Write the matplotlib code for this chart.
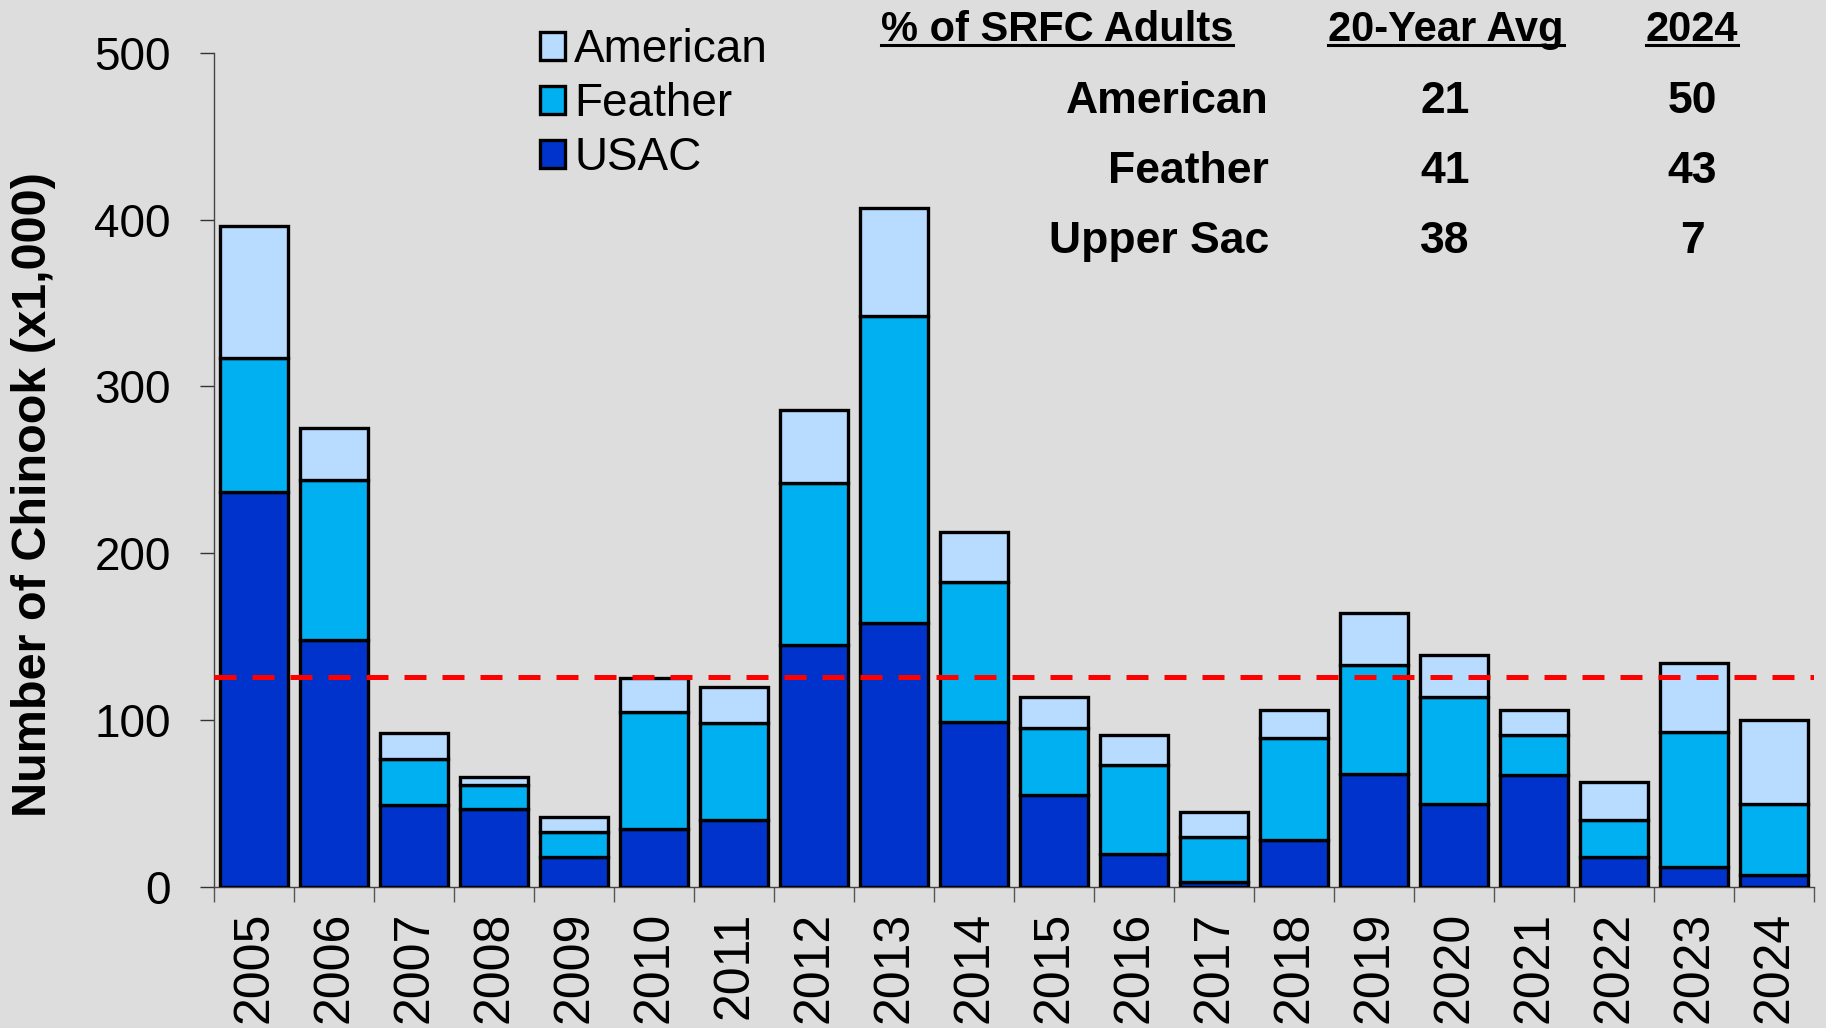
import matplotlib
matplotlib.use("Agg")
import matplotlib.pyplot as plt
from matplotlib.lines import Line2D
import numpy as np

plt.rcParams['font.family'] = ['Liberation Sans', 'DejaVu Sans']

years = [str(y) for y in range(2005, 2025)]
usac = [237, 148, 49, 47, 18, 35, 40, 145, 158, 99, 55, 20, 3, 28, 68, 50, 67, 18, 12, 7]
feather = [80, 96, 28, 14, 15, 70, 58, 97, 184, 84, 40, 53, 27, 61, 65, 64, 24, 22, 81, 43]
american = [79, 31, 15, 5, 9, 20, 22, 44, 65, 30, 19, 18, 15, 17, 31, 25, 15, 23, 41, 50]
reference_level = 126

table_header = ["% of SRFC Adults", "20-Year Avg", "2024"]
table_rows = ["American", "Feather", "Upper Sac"]
avg_20yr = [21, 41, 38]
pct_2024 = [50, 43, 7]

W, H = 1826, 1028
bg = '#dddddd'
fig = plt.figure(figsize=(W / 100, H / 100), dpi=100, facecolor=bg)
ax = fig.add_axes([214 / W, 1 - 887 / H, (1814 - 214) / W, (887 - 52.7) / H])
ax.set_facecolor(bg)

x = np.arange(len(years))
usac_a = np.array(usac)
feather_a = np.array(feather)
american_a = np.array(american)

kw = dict(width=0.85, edgecolor='black', linewidth=2.4, zorder=3)
b1 = ax.bar(x, usac_a, color='#0033cc', label='USAC', **kw)
b2 = ax.bar(x, feather_a, bottom=usac_a, color='#00b0f0', label='Feather', **kw)
b3 = ax.bar(x, american_a, bottom=usac_a + feather_a, color='#b8dcff', label='American', **kw)

ax.axhline(reference_level, color='#ff0000', lw=3.6, dashes=(4.4, 3.2), zorder=4)

ax.set_xlim(-0.5, len(years) - 0.5)
ax.set_ylim(0, 500)
ax.set_yticks([0, 100, 200, 300, 400, 500])
ax.tick_params(axis='y', direction='out', length=10, width=1, color='#333333', pad=21, labelsize=33)
ax.set_xticks(x)
ax.set_xticklabels(years, rotation=90, fontsize=36)
ax.tick_params(axis='x', which='major', length=0, pad=18)
ax.set_xticks(np.arange(-0.5, len(years)), minor=True)
ax.tick_params(axis='x', which='minor', direction='out', length=11, width=1, color='#555555')

for s in ['top', 'right']:
    ax.spines[s].set_visible(False)
for s in ['left', 'bottom']:
    ax.spines[s].set_color('#444444')
    ax.spines[s].set_linewidth(1)

ax.set_ylabel('Number of Chinook (x1,000)', fontsize=35, fontweight='bold')
ax.yaxis.set_label_coords((56 - 214) / (1814 - 214), 0.47)

leg = fig.legend(handles=[b3, b2, b1], labels=['American', 'Feather', 'USAC'],
                 loc='upper left', bbox_to_anchor=(540 / W, 1 - 28 / H),
                 frameon=False, fontsize=33, handlelength=0.55, handleheight=0.55,
                 handletextpad=0.2, labelspacing=0.22, borderpad=0, borderaxespad=0)
for p in leg.get_patches():
    p.set_linewidth(2.4)

# Table
hdr_x = [1057, 1446, 1692]
hdr_texts = []
for t, hx in zip(table_header, hdr_x):
    hdr_texts.append(fig.text(hx / W, 1 - 41 / H, t, ha='center', va='baseline',
                              fontsize=30, fontweight='bold'))
row_base = [113, 183, 253]
for lab, a, b, ry in zip(table_rows, avg_20yr, pct_2024, row_base):
    fig.text(1269 / W, 1 - ry / H, lab, ha='right', va='baseline', fontsize=32, fontweight='bold')
    fig.text(1445 / W, 1 - ry / H, str(a), ha='center', va='baseline', fontsize=32, fontweight='bold')
    fig.text(1692 / W, 1 - ry / H, str(b), ha='center', va='baseline', fontsize=32, fontweight='bold')

fig.canvas.draw()
r = fig.canvas.get_renderer()
for t in hdr_texts:
    bb = t.get_window_extent(r)
    yline = (H - 45) / H
    fig.add_artist(Line2D([bb.x0 / W, bb.x1 / W], [yline, yline], color='black', lw=2.2,
                          transform=fig.transFigure))

fig.savefig('out.png', dpi=100, facecolor=bg)
